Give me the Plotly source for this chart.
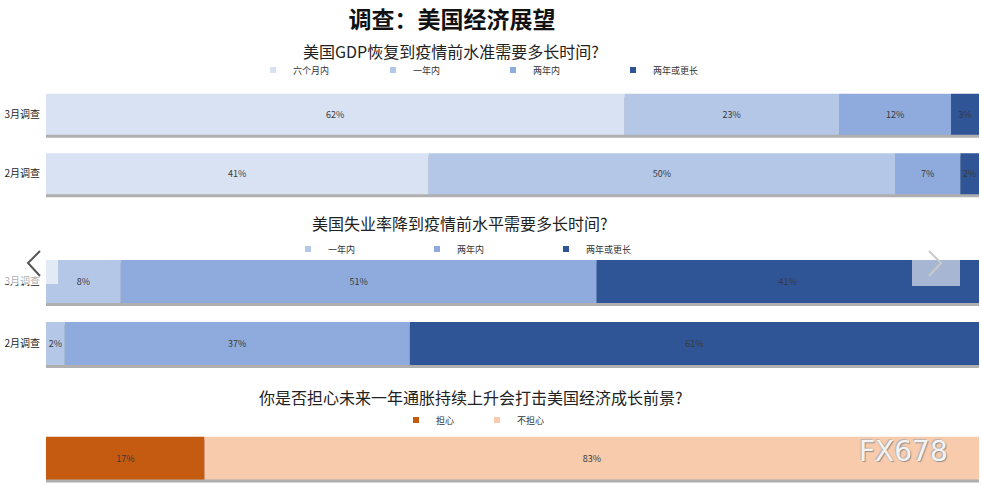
import numpy as np
import plotly.graph_objects as go

W, H = 982, 486

# ---------------- data ----------------
surveys = ["3月调查", "2月调查"]

gdp_legend = ["六个月内", "一年内", "两年内", "两年或更长"]
gdp_six_months = [62, 41]
gdp_one_year = [23, 50]
gdp_two_years = [12, 7]
gdp_longer = [3, 2]

unemp_legend = ["一年内", "两年内", "两年或更长"]
unemp_one_year = [8, 2]
unemp_two_years = [51, 37]
unemp_longer = [41, 61]

infl_category = ["通胀担忧"]
infl_legend = ["担心", "不担心"]
infl_worried = [17]
infl_not_worried = [83]

title_main = "调查：美国经济展望"
title_gdp = "美国GDP恢复到疫情前水准需要多长时间?"
title_unemp = "美国失业率降到疫情前水平需要多长时间?"
title_infl = "你是否担心未来一年通胀持续上升会打击美国经济成长前景?"
watermark = "FX678"

# ---------------- style ----------------
C_SIX = "#d9e2f3"
C_ONE = "#b4c7e7"
C_TWO = "#8faadc"
C_LONG = "#2f5597"
C_WORRY = "#c55a11"
C_NOWORRY = "#f8cbad"
FONT = "Noto Sans CJK SC"
LABEL_COLOR = "#3a3a3a"
BW = 0.69


def px_x(p):
    return p / W


def px_y(p):
    return 1 - p / H


fig = go.Figure()


def add_stack(cats, series, xa, ya, legend_name, px_per_cat):
    base = np.zeros(len(cats))
    total = np.sum([np.array(v, dtype=float) for _, v, _ in series], axis=0)
    off = 3.0 / px_per_cat
    fig.add_trace(go.Bar(
        y=cats, x=total, base=[0] * len(cats), orientation="h",
        width=BW, offset=-BW / 2 - off,
        marker=dict(color="rgba(95,95,95,0.5)", line_width=0),
        xaxis=xa, yaxis=ya, showlegend=False, hoverinfo="skip"))
    for name, vals, color in series:
        fig.add_trace(go.Bar(
            y=cats, x=vals, base=list(base), orientation="h",
            width=BW, offset=-BW / 2,
            marker=dict(color=color, line_width=0),
            text=[f"{v}%" for v in vals], textposition="inside",
            insidetextanchor="middle", textangle=0, constraintext="none",
            insidetextfont=dict(family=FONT, size=9, color=LABEL_COLOR),
            name=name, showlegend=False, xaxis=xa, yaxis=ya))
        base = base + np.array(vals)
    for name, vals, color in series:
        fig.add_trace(go.Scatter(
            x=[None], y=[None], mode="markers",
            marker=dict(symbol="square", size=6, color=color),
            name=name, legend=legend_name, showlegend=True,
            xaxis=xa, yaxis=ya, hoverinfo="skip"))


add_stack(surveys, [(gdp_legend[0], gdp_six_months, C_SIX),
                    (gdp_legend[1], gdp_one_year, C_ONE),
                    (gdp_legend[2], gdp_two_years, C_TWO),
                    (gdp_legend[3], gdp_longer, C_LONG)],
          "x", "y", "legend", 59.5)
add_stack(surveys, [(unemp_legend[0], unemp_one_year, C_ONE),
                    (unemp_legend[1], unemp_two_years, C_TWO),
                    (unemp_legend[2], unemp_longer, C_LONG)],
          "x2", "y2", "legend2", 62)
add_stack(infl_category, [(infl_legend[0], infl_worried, C_WORRY),
                          (infl_legend[1], infl_not_worried, C_NOWORRY)],
          "x3", "y3", "legend3", 62)

xdom = [px_x(46), px_x(979)]
xcommon = dict(range=[0, 100], domain=xdom, visible=False, fixedrange=True)
ycommon = dict(showgrid=False, zeroline=False, showline=False, ticks="",
               tickfont=dict(family=FONT, size=10, color="#262626"),
               ticklabelstandoff=5, fixedrange=True,
               categoryorder="array", categoryarray=surveys[::-1])

fig.update_layout(
    xaxis=dict(xcommon, anchor="y"),
    xaxis2=dict(xcommon, anchor="y2"),
    xaxis3=dict(xcommon, anchor="y3"),
    yaxis=dict(ycommon, anchor="x", range=[-0.5, 1.5],
               domain=[px_y(203.5), px_y(84.5)]),
    yaxis2=dict(ycommon, anchor="x2", range=[-0.5, 1.5],
                domain=[px_y(374.5), px_y(250.5)]),
    yaxis3=dict(ycommon, anchor="x3", range=[-0.45, 0.55],
                domain=[px_y(486), px_y(424)], showticklabels=False,
                categoryarray=infl_category),
)

leg_common = dict(orientation="h", xanchor="left", yanchor="middle",
                  font=dict(family=FONT, size=9, color="#333333"),
                  bgcolor="rgba(0,0,0,0)", borderwidth=0,
                  itemwidth=30, traceorder="normal", itemclick=False,
                  itemdoubleclick=False)
fig.update_layout(
    legend=dict(leg_common, x=px_x(253), y=px_y(70), entrywidth=75),
    legend2=dict(leg_common, x=px_x(288), y=px_y(249), entrywidth=84),
    legend3=dict(leg_common, x=px_x(396), y=px_y(420), entrywidth=36),
)

fig.update_layout(
    title=dict(text=f"<b>{title_main}</b>", x=px_x(452), y=px_y(20),
               xanchor="center", yanchor="middle", xref="paper", yref="paper",
               font=dict(family=FONT, size=23, color="#111111")),
)

annos = [
    dict(text=title_gdp, x=px_x(451), y=px_y(51)),
    dict(text=title_unemp, x=px_x(460), y=px_y(223)),
    dict(text=title_infl, x=px_x(471), y=px_y(397)),
]
for a in annos:
    fig.add_annotation(xref="paper", yref="paper", xanchor="center",
                       yanchor="middle", showarrow=False,
                       font=dict(family=FONT, size=16, color="#222222"), **a)

# watermark
fig.add_annotation(text=watermark, xref="paper", yref="paper",
                   x=px_x(903), y=px_y(451), xanchor="center", yanchor="middle",
                   showarrow=False,
                   font=dict(family="DejaVu Sans", size=28,
                             color="rgba(255,255,255,0.9)",
                             shadow="1px 1px 1px #8a8a8a, -1px -1px 1px #b0b0b0"))

# carousel overlays (decoration)
shapes = [
    dict(type="rect", xref="paper", yref="paper", layer="above",
         x0=px_x(0), x1=px_x(58), y0=px_y(284), y1=px_y(255),
         fillcolor="rgba(255,255,255,0.62)", line=dict(width=0)),
    dict(type="path", xref="paper", yref="paper", layer="above",
         path=f"M {px_x(40)},{px_y(251)} L {px_x(28)},{px_y(263)} L {px_x(40)},{px_y(276)}",
         line=dict(color="#555555", width=2)),
    dict(type="rect", xref="paper", yref="paper", layer="above",
         x0=px_x(912), x1=px_x(960), y0=px_y(286), y1=px_y(258),
         fillcolor="rgba(255,255,255,0.58)", line=dict(width=0)),
    dict(type="path", xref="paper", yref="paper", layer="above",
         path=f"M {px_x(929)},{px_y(251)} L {px_x(941)},{px_y(263)} L {px_x(929)},{px_y(276)}",
         line=dict(color="#c9c9c9", width=2)),
]
fig.update_layout(shapes=shapes)

fig.update_layout(
    width=W, height=H, autosize=False,
    margin=dict(l=0, r=0, t=0, b=0),
    paper_bgcolor="white", plot_bgcolor="white",
    barmode="overlay", font=dict(family=FONT),
)

fig.write_html(
    "out.html",
    config={"displayModeBar": False},
    post_script="document.body.style.margin='0';document.body.style.overflow='hidden';",
)
